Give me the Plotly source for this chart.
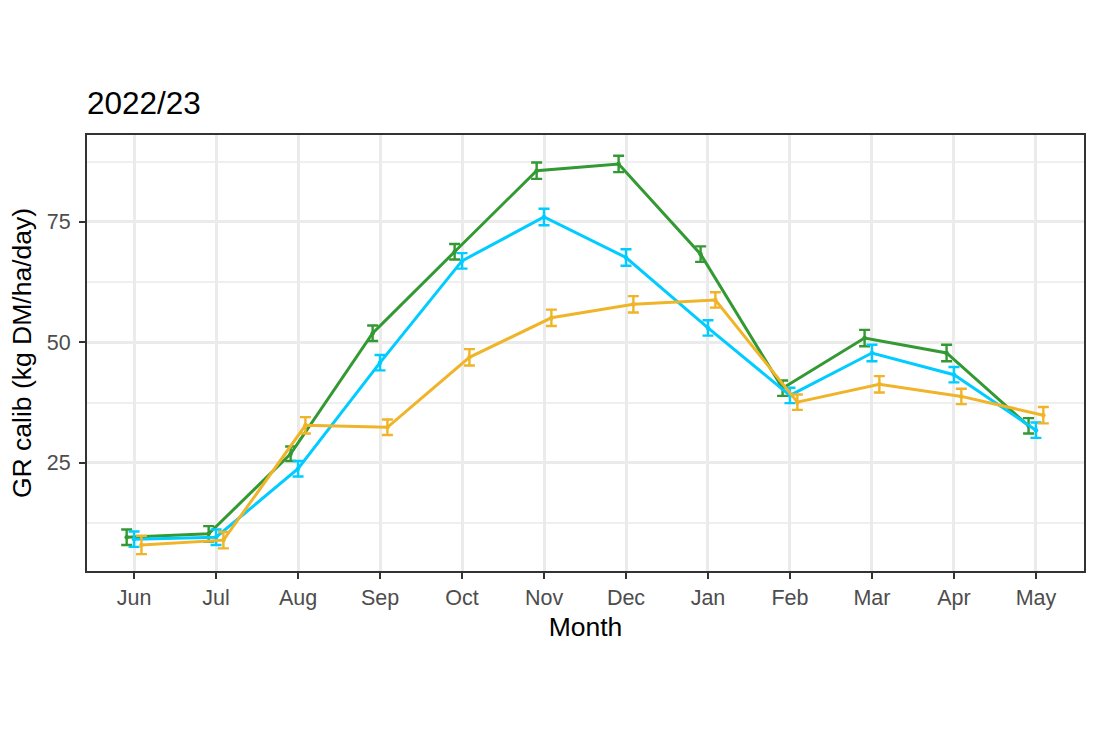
import plotly.graph_objects as go

months = ["Jun", "Jul", "Aug", "Sep", "Oct", "Nov", "Dec", "Jan", "Feb", "Mar", "Apr", "May"]

green_vals = [9.6, 10.3, 26.9, 51.9, 68.8, 85.6, 87.0, 68.3, 40.5, 50.9, 47.8, 32.7]
green_err = [1.6, 1.6, 1.5, 1.6, 1.6, 1.7, 1.7, 1.6, 1.6, 1.7, 1.7, 1.6]
blue_vals = [9.2, 9.6, 23.8, 45.8, 66.9, 76.0, 67.6, 53.0, 39.0, 47.8, 43.3, 31.8]
blue_err = [1.6, 1.6, 1.6, 1.6, 1.6, 1.7, 1.7, 1.6, 1.6, 1.7, 1.6, 1.6]
orange_vals = [8.0, 9.0, 32.8, 32.4, 46.9, 55.1, 57.9, 58.8, 37.6, 41.3, 38.8, 34.9]
orange_err = [1.9, 1.7, 1.7, 1.6, 1.7, 1.7, 1.7, 1.6, 1.6, 1.7, 1.6, 1.7]

series = [
    ("green", green_vals, green_err, "#339933", -0.09),
    ("blue", blue_vals, blue_err, "#00CCFF", 0.0),
    ("orange", orange_vals, orange_err, "#F0B429", 0.09),
]

FONT = "Liberation Sans, Arial"

fig = go.Figure()
for name, vals, errs, col, off in series:
    xs = [i + off for i in range(len(months))]
    fig.add_trace(go.Scatter(
        x=xs, y=vals, mode="lines+markers", name=name,
        line=dict(color=col, width=3),
        marker=dict(color=col, size=4.5),
        error_y=dict(type="data", array=errs, visible=True, color=col, thickness=2.4, width=5.5),
        showlegend=False,
    ))

axis_common = dict(
    showline=True, linecolor="#333333", linewidth=2, mirror=True,
    ticks="outside", ticklen=6, tickcolor="#333333", tickwidth=2,
    tickfont=dict(family=FONT, size=21.5, color="#4D4D4D"),
    gridcolor="#EBEBEB", gridwidth=2.6, zeroline=False,
)

fig.update_layout(
    width=1100, height=732,
    paper_bgcolor="white", plot_bgcolor="white",
    margin=dict(l=87, r=16, t=135, b=161),
    title=dict(text="2022/23", x=87/1100, xanchor="left", y=1 - 102.5/732, yanchor="middle",
               font=dict(family=FONT, size=31.5, color="black")),
    xaxis=dict(
        tickmode="array", tickvals=list(range(len(months))), ticktext=months,
        range=[-0.574, 11.586],
        title=dict(text="Month", font=dict(family=FONT, size=26.5, color="black"), standoff=9),
        **axis_common,
    ),
    yaxis=dict(
        range=[2.6, 93.0], tickvals=[25, 50, 75], ticklabelstandoff=4,
        minor=dict(tickvals=[12.5, 37.5, 62.5, 87.5], showgrid=True, gridcolor="#EFEFEF", gridwidth=1.6, ticks=""),
        title=dict(text="GR calib (kg DM/ha/day)", font=dict(family=FONT, size=26.5, color="black"), standoff=8),
        **axis_common,
    ),
)

fig.write_html("out.html")
